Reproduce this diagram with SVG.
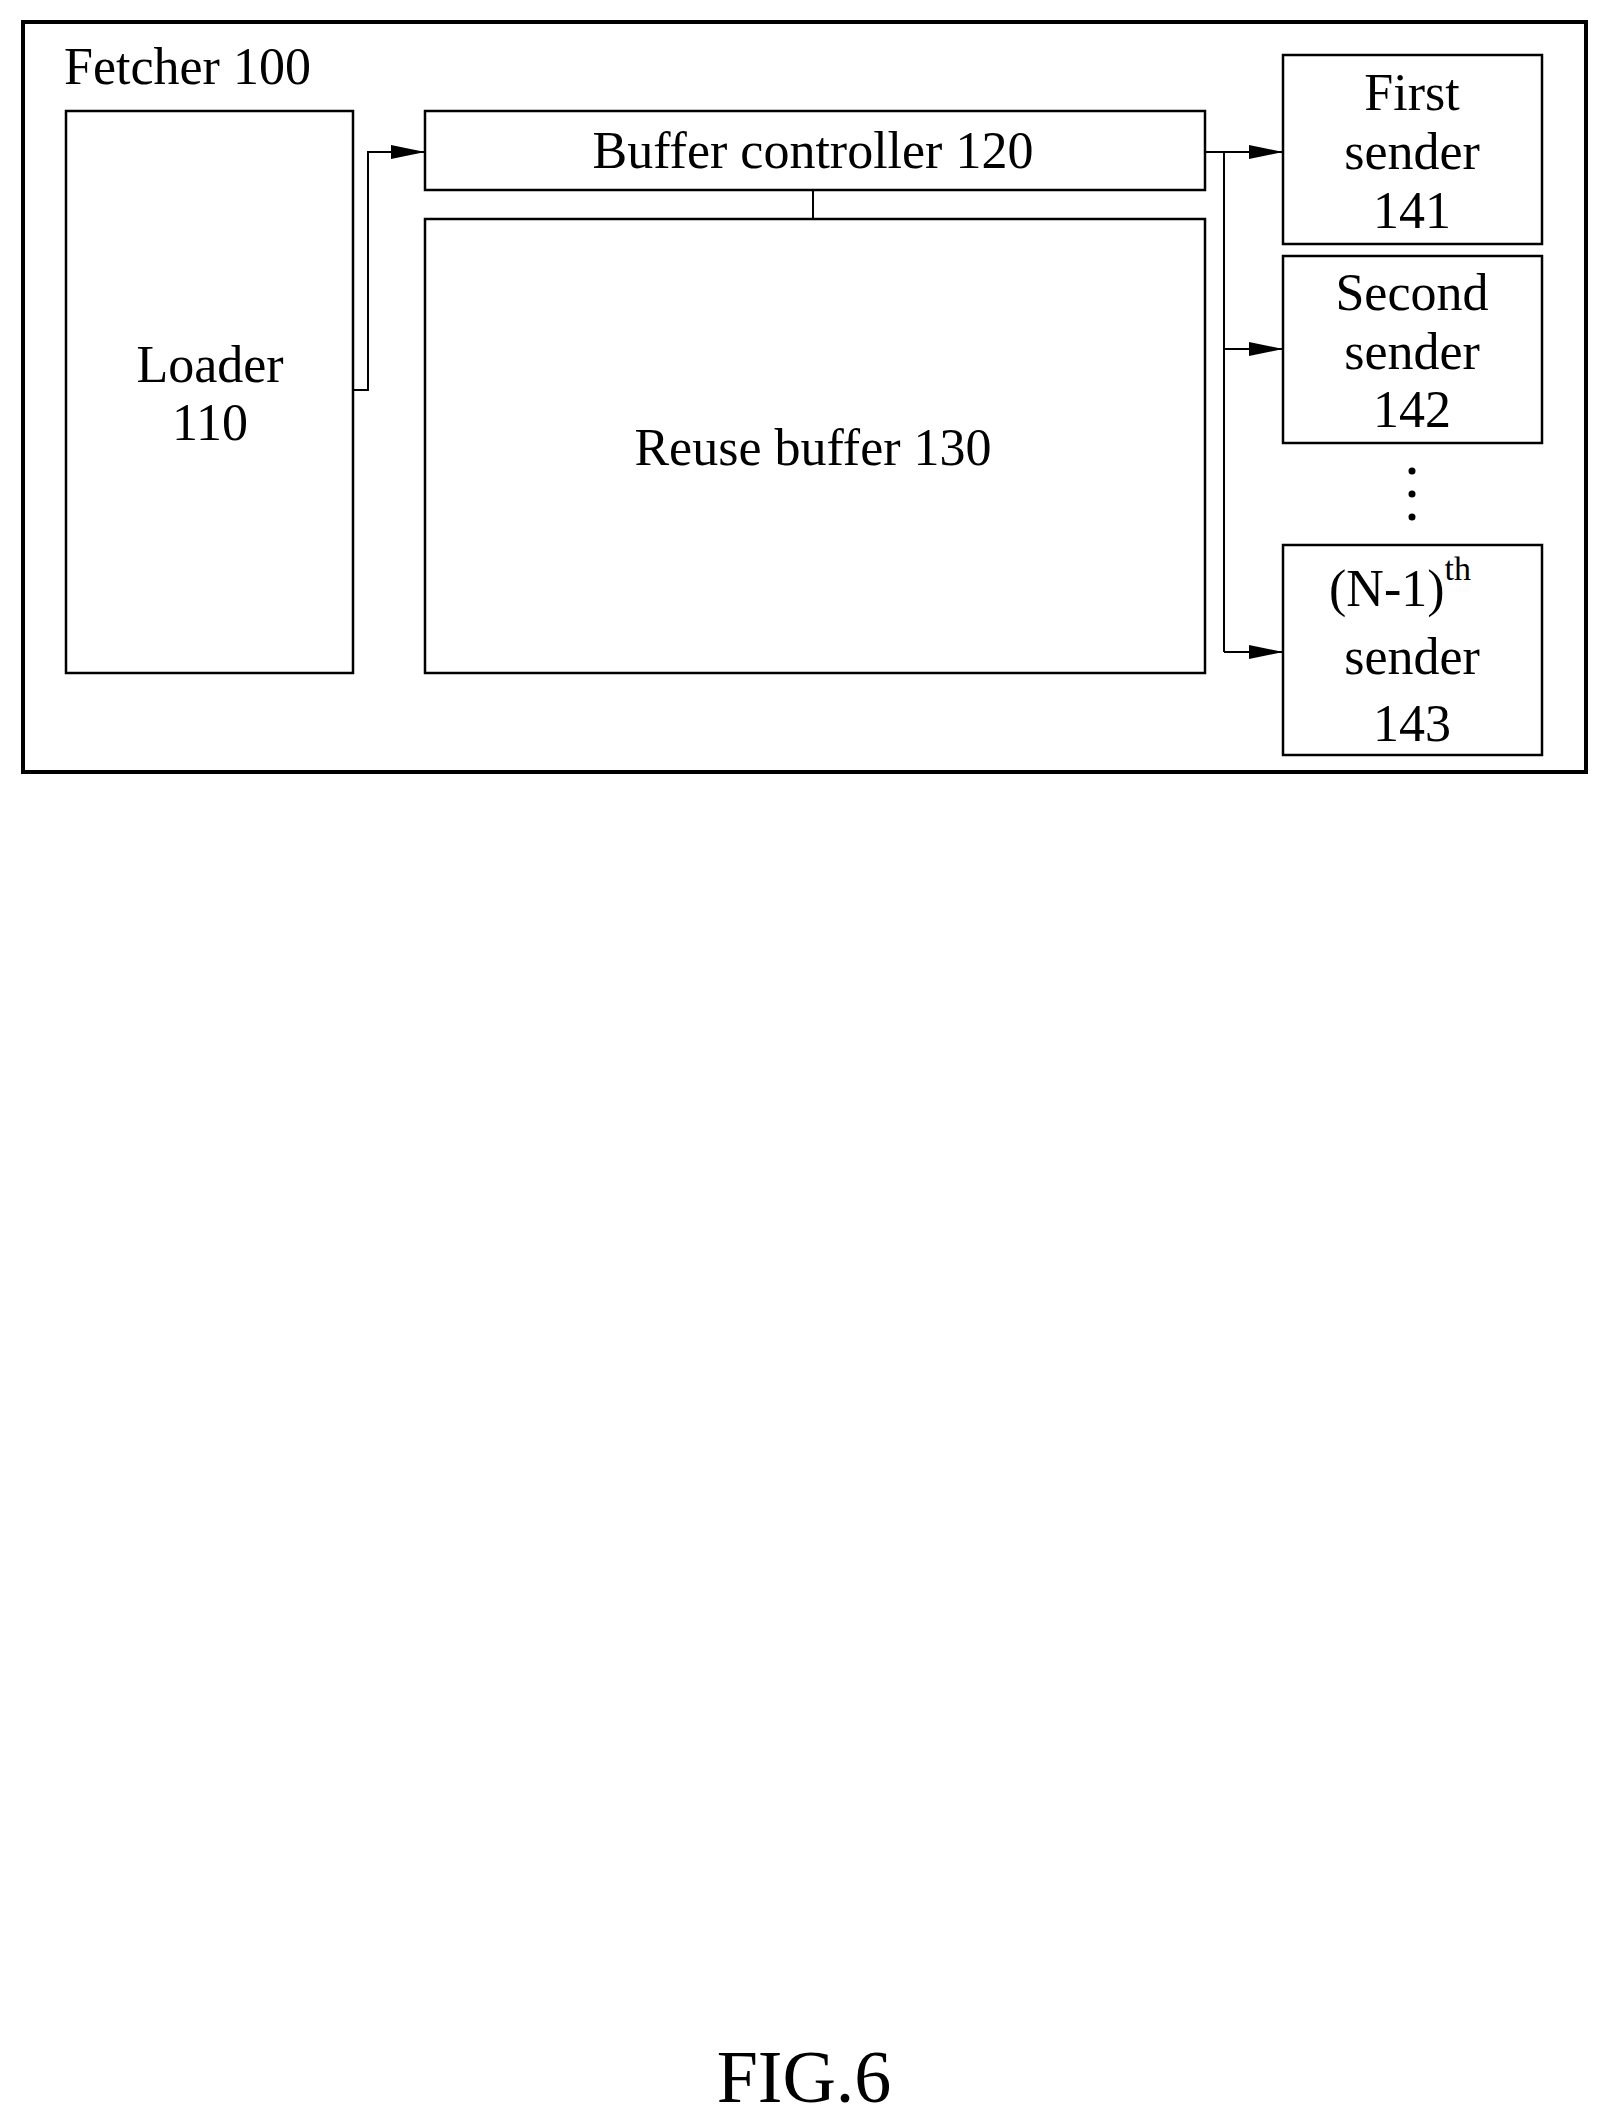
<svg xmlns="http://www.w3.org/2000/svg" width="1608" height="2122" viewBox="0 0 1608 2122">
<style>
.b{fill:none;stroke:#000;stroke-width:2.5}
.t{font-family:"Liberation Serif",serif;font-size:52px;text-anchor:middle;fill:#000}
.c{fill:none;stroke:#000;stroke-width:2}
</style>
<defs><marker id="a" markerWidth="12" markerHeight="8" refX="12" refY="4" orient="auto" markerUnits="userSpaceOnUse"><path d="M0,0L12,4L0,8z" fill="#000" transform="scale(1)"/></marker>
<marker id="A" markerWidth="34" markerHeight="14" refX="34" refY="7" orient="auto" markerUnits="userSpaceOnUse"><path d="M0,0L34,7L0,14z" fill="#000"/></marker></defs>
<rect x="0" y="0" width="1608" height="2122" fill="#fff"/>
<g id="fetcher"><rect x="23" y="22" width="1563" height="750" fill="none" stroke="#000" stroke-width="4"/><text class="t" x="64" y="84" style="text-anchor:start">Fetcher 100</text></g>
<g id="loader"><rect class="b" x="66" y="111" width="287" height="562"/><text class="t" x="210" y="382">Loader</text><text class="t" x="210" y="440">110</text></g>
<g id="controller"><rect class="b" x="425" y="111" width="780" height="79"/><text class="t" x="813" y="168">Buffer controller 120</text></g>
<g id="reuse"><rect class="b" x="425" y="219" width="780" height="454"/><text class="t" x="813" y="465">Reuse buffer 130</text></g>
<g id="s1"><rect class="b" x="1283" y="55" width="259" height="189"/><text class="t" x="1412" y="110">First</text><text class="t" x="1412" y="169">sender</text><text class="t" x="1412" y="228">141</text></g>
<g id="s2"><rect class="b" x="1283" y="256" width="259" height="187"/><text class="t" x="1412" y="310">Second</text><text class="t" x="1412" y="369">sender</text><text class="t" x="1412" y="427">142</text></g>
<g id="s3"><rect class="b" x="1283" y="545" width="259" height="210"/><text class="t" x="1400" y="606">(N-1)<tspan dy="-26" font-size="34">th</tspan></text><text class="t" x="1412" y="674">sender</text><text class="t" x="1412" y="741">143</text></g>
<g id="dots"><circle cx="1412" cy="471" r="3.5"/><circle cx="1412" cy="494" r="3.5"/><circle cx="1412" cy="517" r="3.5"/></g>
<g id="connectors">
<path class="c" d="M353,390H368V152H425" marker-end="url(#A)"/>
<path class="c" d="M813,190V219"/>
<path class="c" d="M1205,152H1283" marker-end="url(#A)"/>
<path class="c" d="M1224,152V652"/>
<path class="c" d="M1224,349H1283" marker-end="url(#A)"/>
<path class="c" d="M1224,652H1283" marker-end="url(#A)"/>
</g>
<text class="t" x="804" y="2102" font-size="74" style="font-size:74px">FIG.6</text>
</svg>
